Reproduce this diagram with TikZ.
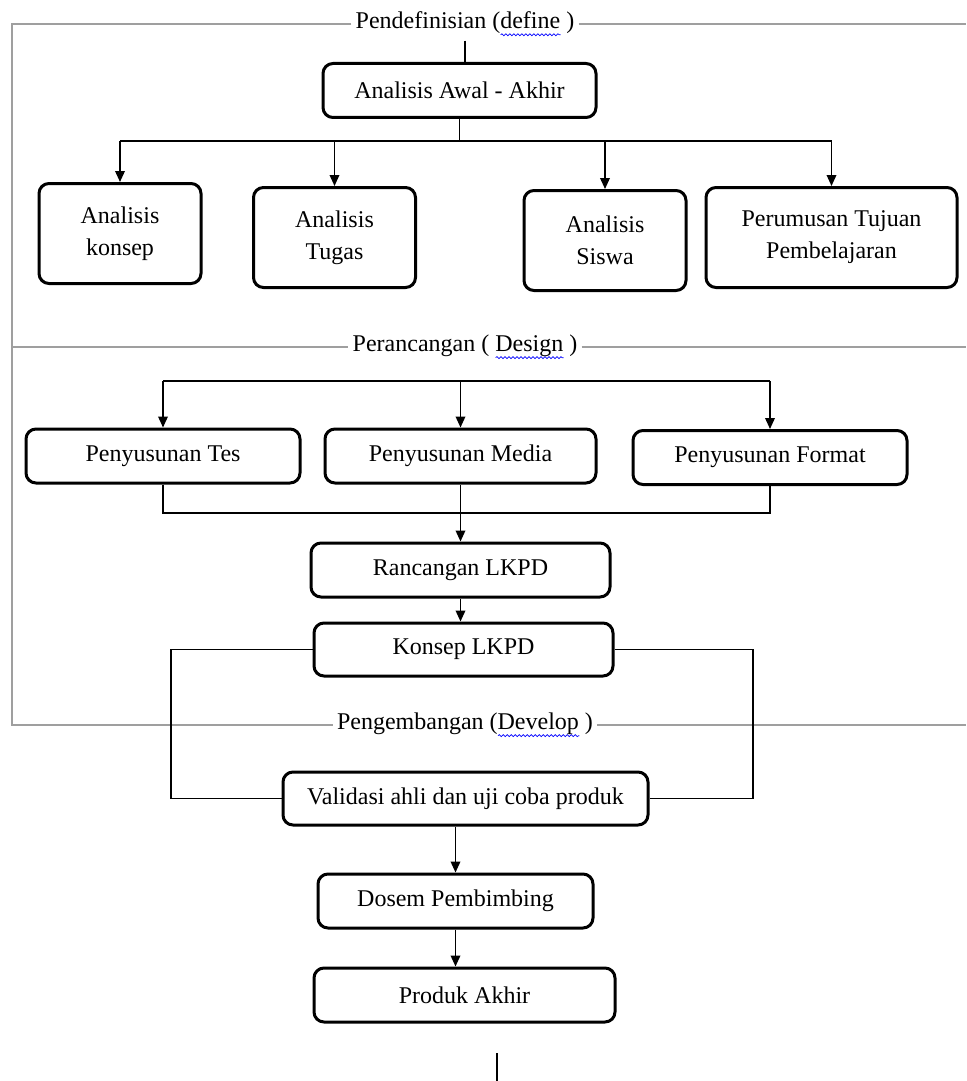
\documentclass[tikz,border=0pt]{standalone}
\usepackage{fontspec}
\setmainfont{Liberation Serif}
\usepackage{tikz}
\usetikzlibrary{arrows.meta,positioning,decorations.pathmorphing}
\newlength\spellwd
\newcommand\spellmark[1]{\settowidth\spellwd{#1}%
  \rlap{\raisebox{-3pt}{\tikz[x=1pt,y=1pt,baseline=0pt]
    \draw[blue, line width=0.35pt, decorate,
          decoration={snake, amplitude=0.5pt, segment length=2pt}] (0,0) -- (\spellwd,0);}}#1}

\begin{document}
\begin{tikzpicture}[x=0.5pt, y=-0.5pt, >={Triangle[length=5.5pt,width=4.8pt]},
    font=\fontsize{12}{16}\selectfont, line width=0.8pt,
    st/.style={rectangle, rounded corners=5pt, draw, line width=1.5pt,
               minimum height=27pt, inner sep=2pt, align=center, fill=white},
    tall/.style={st, minimum width=81pt, minimum height=50pt},
    lab/.style={fill=white, inner sep=2pt},
    fr/.style={draw=gray!75, line width=0.7pt}]
  \useasboundingbox (0,0) rectangle (966,1081);
  % define
  \node[lab] (def) at (465,24) {Pendefinisian (\spellmark{define} )};
  \node[st, minimum width=136.5pt] (awal) at (459.5,90.5) {Analisis Awal - Akhir};
  \node[tall] (konsep) at (120,233.5) {Analisis\\konsep};
  \node[tall] (tugas)  at (334.5,237.5) {Analisis\\Tugas};
  \node[tall] (siswa)  at (605,240.5) {Analisis\\Siswa};
  \node[tall, minimum width=125.5pt] (tujuan) at (831.5,237.5) {Perumusan Tujuan\\Pembelajaran};
  % design
  \node[lab] (des) at (465,347) {Perancangan ( \spellmark{Design} )};
  \node[st, minimum width=137pt]   (tes)    at (163,456)   {Penyusunan Tes};
  \node[st, minimum width=135.5pt] (media)  at (460.5,456) {Penyusunan Media};
  \node[st, minimum width=137pt]   (format) at (770,457.5) {Penyusunan Format};
  \node[st, minimum width=149.5pt] (rancang) at (460.5,570) {Rancangan LKPD};
  \node[st, minimum width=149.5pt, minimum height=26.5pt] (lkpd) at (463.5,649.5) {Konsep LKPD};
  % develop
  \node[lab] (dev) at (465,725) {Pengembangan (\spellmark{Develop} )};
  \node[st, minimum width=182.5pt, minimum height=26.5pt] (valid) at (465.5,798.5) {Validasi ahli dan uji coba produk};
  \node[st, minimum width=137.5pt] (dosen)  at (455.5,901) {Dosem Pembimbing};
  \node[st, minimum width=150.5pt] (produk) at (464.5,995) {Produk Akhir};

  % frame
  \draw[fr] (def.west) -- (12,24) -- (12,725) -- (dev.west);
  \draw[fr] (def.east) -- (966,24);
  \draw[fr] (12,347) -- (des.west);
  \draw[fr] (des.east) -- (966,347);
  \draw[fr] (dev.east) -- (966,725);

  % buses
  \coordinate (b1) at (461,141);
  \coordinate (b2) at (461,381);
  \coordinate (b3) at (461,513);
  \coordinate (lk) at (171,0);
  \coordinate (rk) at (753,0);

  \draw (def.south) -- (def.south |- awal.north);
  \draw (awal.south) -- (awal.south |- b1);
  \draw (konsep.north |- b1) -- (tujuan.north |- b1);
  \foreach \n in {konsep,tugas,siswa,tujuan}
    \draw[->] (\n.north |- b1) -- (\n.north);
  \draw (tes.north |- b2) -- (format.north |- b2);
  \foreach \n in {tes,media,format}
    \draw[->] (\n.north |- b2) -- (\n.north);
  \draw (tes.south) -- (tes.south |- b3) -- (format.south |- b3) -- (format.south);
  \draw[->] (media.south) -- (rancang.north);
  \draw[->] (rancang.south) -- (rancang.south |- lkpd.north);
  \draw (lkpd.west) -| (lk |- valid.west) -- (valid.west);
  \draw (lkpd.east) -| (rk |- valid.east) -- (valid.east);
  \draw[->] (dosen.north |- valid.south) -- (dosen.north);
  \draw[->] (dosen.south) -- (dosen.south |- produk.north);
  % cut line
  \coordinate (cut1) at (497,1053);
  \coordinate (cut2) at (497,1081);
  \draw (cut1) -- (cut2);
\end{tikzpicture}
\end{document}
